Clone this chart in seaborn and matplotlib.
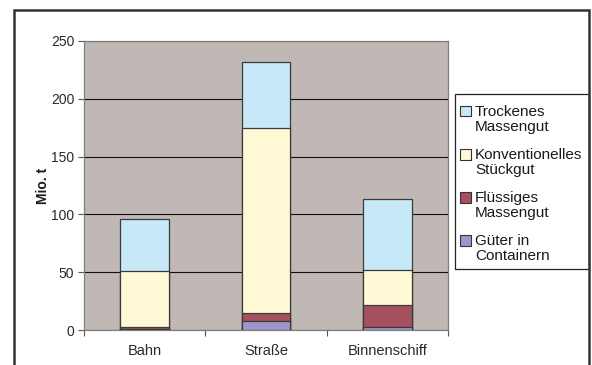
import matplotlib
matplotlib.use("Agg")
import matplotlib.pyplot as plt
from matplotlib.patches import Patch, Rectangle
from matplotlib.legend_handler import HandlerPatch
import seaborn as sns
import pandas as pd
import numpy as np

# Güterverkehr nach Verkehrsträger und Güterart (Mio. t)
carriers = ["Bahn", "Straße", "Binnenschiff"]
container = [0.5, 8, 3]
fluessig = [2.5, 7, 18.5]
stueckgut = [48, 159.5, 30]
trocken = [45, 57, 62]

series_names = ["Güter in\nContainern", "Flüssiges\nMassengut",
                "Konventionelles\nStückgut", "Trockenes\nMassengut"]
series_values = [container, fluessig, stueckgut, trocken]
series_colors = ["#9C98C9", "#A5505E", "#FFFAD5", "#C6E8F7"]

sns.set_theme(style="white")
plt.rcParams["font.family"] = ["Liberation Sans", "DejaVu Sans"]

W, H = 592, 365
fig = plt.figure(figsize=(W / 100, H / 100), dpi=100)
ax = fig.add_axes([84 / W, 1 - 330 / H, (448 - 84) / W, (330 - 41) / H])
ax.set_facecolor("#C0B8B5")

# cumulative heights, drawn from the top segment downwards
cum = np.cumsum(np.array(series_values), axis=0)
for i in range(len(series_values) - 1, -1, -1):
    df = pd.DataFrame({"carrier": carriers, "value": cum[i]})
    sns.barplot(data=df, x="carrier", y="value", color=series_colors[i],
                saturation=1, width=0.4, edgecolor="#3a3a3a", linewidth=0.9,
                ax=ax, zorder=3)

ax.set_ylim(0, 250)
ax.set_xlim(-0.5, 2.5)
ax.set_yticks([0, 50, 100, 150, 200, 250])
ax.yaxis.grid(True, color="#111111", linewidth=0.8, zorder=0)
ax.set_axisbelow(True)

ax.set_xticks([-0.5, 0.5, 1.5, 2.5], minor=True)
ax.tick_params(axis="x", which="minor", length=4, width=0.8, color="#555555",
               direction="out", bottom=True)
ax.tick_params(axis="x", which="major", length=0, labelsize=10.5, pad=10,
               labelcolor="#2a2a2a")
ax.tick_params(axis="y", which="major", length=4, width=0.8, color="#555555",
               direction="out", left=True, labelsize=10, pad=3,
               labelcolor="#2a2a2a")

ax.set_xlabel("")
ax.set_ylabel("Mio. t", fontsize=10, fontweight="bold", labelpad=0.5,
              color="#1a1a1a")

for side, sp in ax.spines.items():
    sp.set_visible(True)
    sp.set_color("#808080")
    sp.set_linewidth(0.9)


def top_aligned_square(legend, orig_handle, xdescent, ydescent, width, height,
                       fontsize):
    # place the swatch next to the first line of a two-line label
    shift = 0.55 * fontsize
    return Rectangle((-xdescent, -ydescent + shift), width, height)


handles = [Patch(facecolor=series_colors[i], edgecolor="#333333", linewidth=0.8,
                 label=series_names[i]) for i in range(3, -1, -1)]
leg = fig.legend(handles=handles, loc="upper left",
                 bbox_to_anchor=(455 / W, 1 - 100 / H),
                 handler_map={Patch: HandlerPatch(patch_func=top_aligned_square)},
                 fontsize=11, frameon=False, handlelength=0.72,
                 handleheight=0.72, handletextpad=0.28, labelspacing=0.9,
                 borderpad=0.3, borderaxespad=0)
for t in leg.get_texts():
    t.set_color("#1a1a1a")
    t.set_linespacing(1.12)

# legend box
fig.patches.append(Rectangle((455 / W, 1 - 269 / H), (589 - 455) / W,
                             (269 - 94) / H, transform=fig.transFigure,
                             facecolor="white", edgecolor="#222222",
                             linewidth=0.9, zorder=0))

# outer frame around the chart
fig.patches.append(Rectangle((14 / W, -0.1), (589 - 14) / W, 1.1 - 10 / H,
                             transform=fig.transFigure, fill=False,
                             edgecolor="#333333", linewidth=1.8))

fig.savefig("out.png", dpi=100)
